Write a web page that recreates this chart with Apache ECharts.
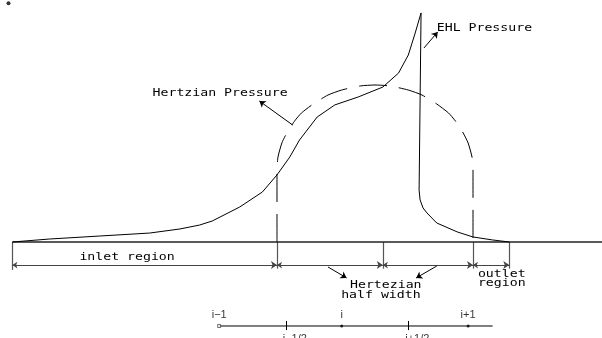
<!DOCTYPE html>
<html>
<head>
<meta charset="utf-8">
<script src="https://cdn.jsdelivr.net/npm/echarts@6/dist/echarts.min.js"></script>
<style>html,body{margin:0;padding:0;background:#fff;}#c{width:602px;height:338px;}</style>
</head>
<body>
<div id="c"></div>
<script>
// x: position in units of Hertzian half width (0 = contact centre)
// p: pressure in units of maximum Hertzian pressure
const ehlX = [-3.70, -3.32, -2.81, -2.30, -1.99, -1.79, -1.66, -1.38, -1.15, -1.00, -0.87, -0.77, -0.59, -0.41, -0.17, 0.08, 0.24, 0.34, 0.41, 0.47, 0.45, 0.46, 0.49, 0.53, 0.63, 0.84, 1.00, 1.20, 1.37];
const ehlP = [0.000, 0.019, 0.038, 0.057, 0.083, 0.108, 0.134, 0.223, 0.318, 0.427, 0.541, 0.650, 0.796, 0.873, 0.924, 0.987, 1.076, 1.191, 1.331, 1.459, 0.331, 0.268, 0.217, 0.185, 0.121, 0.064, 0.032, 0.013, 0.000];

const hertzX = [-1.00, -1.00, -0.99, -0.95, -0.90, -0.82, -0.75, -0.63, -0.48, -0.34, -0.15, 0.00, 0.15, 0.34, 0.48, 0.63, 0.75, 0.82, 0.90, 0.95, 0.99, 1.00, 1.00];
const hertzP = [0.000, 0.459, 0.541, 0.631, 0.694, 0.771, 0.822, 0.879, 0.936, 0.968, 0.994, 1.000, 0.994, 0.968, 0.936, 0.879, 0.822, 0.771, 0.694, 0.631, 0.541, 0.459, 0.000];

const baselineX = [-3.70, 2.32];
const regionBounds = [-3.70, -1.00, 0.08, 1.00, 1.37];
const dimLevel = -0.147;
const extEnd = [-0.178, -0.170, -0.170, -0.170, -0.170];

const nodeX = [-1.59, -0.34, 0.95];
const nodeLabels = ['i\u22121', 'i', 'i+1'];
const faceX = [-0.91, 0.34];
const faceLabels = ['i\u22121/2', 'i+1/2'];
const stencilX = [-1.59, 1.20];
const stencilLevel = -0.535;

const notes = [
  { text: 'Hertzian Pressure', x: -2.27, p: 0.949, align: 'left' },
  { text: 'EHL Pressure', x: 0.63, p: 1.363, align: 'left' },
  { text: 'inlet region', x: -2.53, p: -0.096, align: 'center' },
  { text: 'Hertezian', x: 0.11, p: -0.274, align: 'center' },
  { text: 'half width', x: 0.06, p: -0.338, align: 'center' },
  { text: 'outlet', x: 1.05, p: -0.204, align: 'left' },
  { text: 'region', x: 1.05, p: -0.261, align: 'left' }
];
const pointerArrows = [
  [[-0.84, 0.745], [-1.18, 0.898]],
  [[0.50, 1.236], [0.64, 1.338]],
  [[-0.48, -0.159], [-0.29, -0.229]],
  [[0.63, -0.153], [0.42, -0.229]]
];
const strayDot = [[-3.74, 1.52]];

const chart = echarts.init(document.getElementById('c'), null, { renderer: 'canvas' });
const zip = (a, b) => a.map((v, i) => [v, b[i]]);

const dimSegments = [];
for (let i = 0; i < regionBounds.length - 1; i++) {
  dimSegments.push({ coords: [[regionBounds[i], dimLevel], [regionBounds[i + 1], dimLevel]] });
}
const extLines = regionBounds.map((x, i) => ({ coords: [[x, 0], [x, extEnd[i]]] }));
const faceTicks = faceX.map(x => ({ coords: [[x, stencilLevel + 0.032], [x, stencilLevel - 0.026]] }));

chart.setOption({
  animation: false,
  backgroundColor: '#fff',
  grid: { left: 0, right: 0, top: 0, bottom: 0 },
  xAxis: { type: 'value', min: -3.8265, max: 2.3163, show: false },
  yAxis: { type: 'value', min: -0.6115, max: 1.5414, show: false },
  series: [
    { type: 'lines', coordinateSystem: 'cartesian2d', data: extLines, symbol: 'none',
      lineStyle: { color: '#555', width: 1.2, opacity: 1 }, silent: true },
    { type: 'line', data: zip(baselineX, [0, 0]), showSymbol: false,
      lineStyle: { color: '#222', width: 1.5 }, z: 3 },
    { type: 'line', data: zip(ehlX, ehlP), showSymbol: false,
      lineStyle: { color: '#000', width: 1 }, z: 4 },
    { type: 'line', data: zip(hertzX, hertzP), showSymbol: false, smooth: 0.2,
      lineStyle: { color: '#000', width: 1, type: [28, 12] }, z: 4 },
    { type: 'lines', coordinateSystem: 'cartesian2d', data: dimSegments,
      symbol: ['arrow', 'arrow'], symbolSize: [5, 6],
      lineStyle: { color: '#444', width: 1, opacity: 1 }, silent: true },
    { type: 'lines', coordinateSystem: 'cartesian2d', data: pointerArrows.map(c => ({ coords: c })),
      symbol: ['none', 'arrow'], symbolSize: 6,
      lineStyle: { color: '#000', width: 1, opacity: 1 }, silent: true },
    { type: 'line', data: zip(stencilX, [stencilLevel, stencilLevel]), showSymbol: false,
      lineStyle: { color: '#000', width: 1 } },
    { type: 'lines', coordinateSystem: 'cartesian2d', data: faceTicks, symbol: 'none',
      lineStyle: { color: '#000', width: 1, opacity: 1 }, silent: true },
    { type: 'scatter', clip: false, z: 5,
      data: nodeX.map((x, i) => ({
        value: [x, stencilLevel],
        symbol: i === 0 ? 'rect' : 'circle',
        symbolSize: 3,
        itemStyle: i === 0 ? { color: '#fff', borderColor: '#000', borderWidth: 0.7 } : { color: '#000' },
        label: { show: true, formatter: nodeLabels[i] }
      })),
      label: { position: 'top', distance: 4, color: '#000', fontFamily: 'Liberation Sans', fontSize: 11 } },
    { type: 'scatter', clip: false, symbolSize: 0,
      data: faceX.map((x, i) => ({ value: [x, stencilLevel - 0.026], label: { formatter: faceLabels[i] } })),
      label: { show: true, position: 'bottom', distance: 3, offset: [9, 0], color: '#000', fontFamily: 'Liberation Sans', fontSize: 11 } },
    { type: 'scatter', data: strayDot, symbolSize: 4, itemStyle: { color: '#000' } }
  ]
});

const g = notes.map(n => {
  const pt = chart.convertToPixel({ gridIndex: 0 }, [n.x, n.p]);
  return {
    type: 'text', x: pt[0], y: pt[1], scaleX: 1.32, z: 10,
    style: { text: n.text, fill: '#000', font: '10px "DejaVu Sans Mono"', align: n.align, verticalAlign: 'middle' }
  };
});
chart.setOption({ graphic: g });
</script>
</body>
</html>
